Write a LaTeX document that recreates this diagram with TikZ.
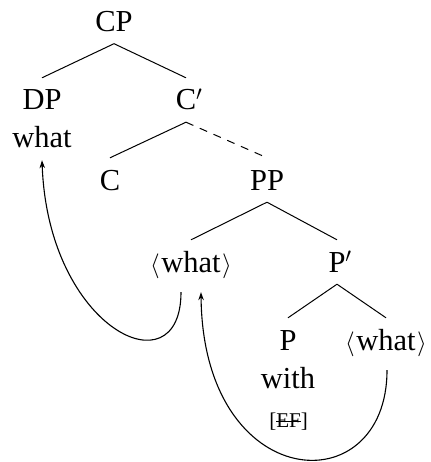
\documentclass[tikz,border=0pt]{standalone}
\usepackage{fontspec}
\setmainfont{Liberation Serif}
\usetikzlibrary{arrows.meta}
\newcommand\strk[1]{\setbox0\hbox{#1}\rlap{\rule[0.42\ht0]{\wd0}{0.9pt}}\box0}
\newcommand\angw[1]{$\langle$\kern1.5pt#1\kern1.5pt$\rangle$}
\begin{document}
\begin{tikzpicture}[x=1pt,y=-1pt,
  lab/.style={anchor=base,inner xsep=0pt,inner ysep=12pt,text height=20pt,text depth=0pt,font=\fontsize{30.5}{36}\selectfont},
  small/.style={anchor=base,inner sep=0pt,font=\fontsize{21}{25}\selectfont},
  br/.style={line width=1pt},
  mv/.style={line width=1.1pt,-{Stealth[length=8pt,width=5.5pt]}}]
\useasboundingbox (0,0) rectangle (430,462);
\node[lab] (CP) at (114,31.5) {CP};
\node[lab] (DP) at (42,110) {DP};
\node[lab] (what) at (42,148) {what};
\node[lab] (Cb) at (186,110) {C\rlap{$'$}};
\node[lab] (C) at (110,190) {C};
\node[lab] (PP) at (267,190) {PP};
\node[lab] (w1) at (191,272) {\angw{what}};
\node[lab] (Pb) at (337,272) {P\rlap{$'$}};
\node[lab] (P) at (288,350) {P};
\node[lab] (with) at (288,388) {with};
\node[small] (EF) at (288.5,427.5) {[\strk{EF}]};
\node[lab] (w2) at (386,350) {\angw{what}};
\draw[br] (CP.south) -- (DP.north);
\draw[br] (CP.south) -- (Cb.north);
\draw[br] (Cb.south) -- (C.north);
\draw[br,dash pattern=on 8pt off 7pt] (Cb.south) -- (PP.north);
\draw[br] (PP.south) -- (w1.north);
\draw[br] (PP.south) -- (Pb.north);
\draw[br] (Pb.south) -- (P.north);
\draw[br] (Pb.south) -- (w2.north);
\draw[mv] ([xshift=-10pt,yshift=-8pt]w1.south) .. controls (181,392) and (48,330) .. (what.south);
\draw[mv] ([xshift=1pt,yshift=-8pt]w2.south) .. controls (387,505) and (203,495) .. ([xshift=10pt,yshift=-8pt]w1.south);
\end{tikzpicture}
\end{document}
